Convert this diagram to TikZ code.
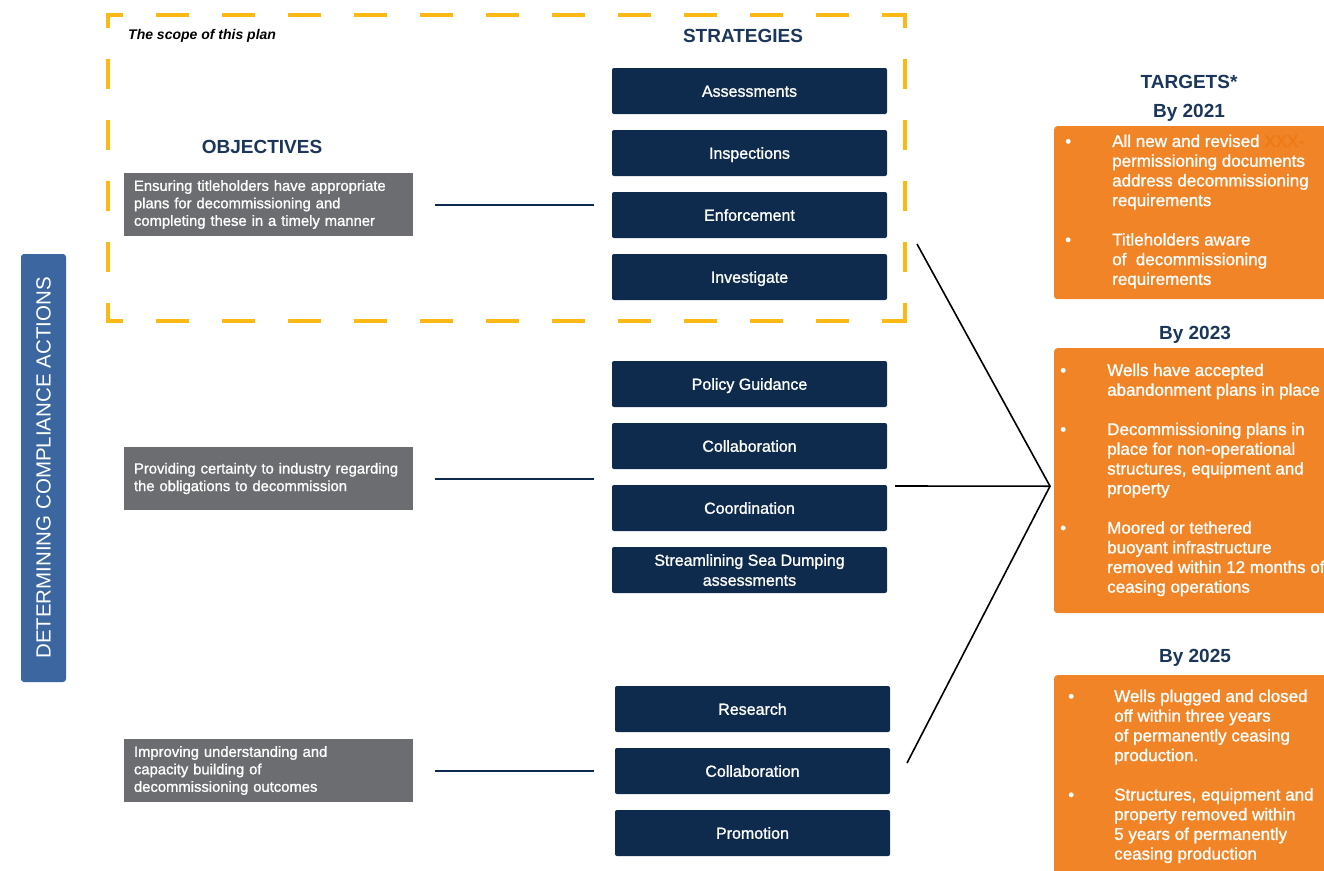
\documentclass[tikz,border=0pt]{standalone}
\usepackage{fontspec}
\setmainfont{Liberation Sans}
\newfontfamily\medfont{Liberation Sans}[FakeBold=1.2]
\usepackage{array}
\definecolor{stratblue}{RGB}{14,42,76}
\definecolor{headblue}{RGB}{27,54,90}
\definecolor{objgray}{RGB}{107,109,112}
\definecolor{barblue}{RGB}{59,102,160}
\definecolor{targetorange}{RGB}{241,132,38}
\definecolor{xxxorange}{RGB}{238,122,22}
\definecolor{scopegold}{RGB}{253,185,19}

\begin{document}
\begin{tikzpicture}[x=1pt, y=-1pt,
            strat/.style={fill=stratblue, rounded corners=2pt, minimum width=275pt, minimum height=46pt, inner sep=0pt, text=white, align=center, text height=11.5pt, text depth=0pt, font=\medfont\fontsize{16}{20}\selectfont},
            obj/.style={fill=objgray, minimum width=289pt, minimum height=63pt, text width=269pt, inner xsep=10pt, inner ysep=0pt, text=white, align=left, font=\medfont\fontsize{14.8}{17.5}\selectfont},
            heading/.style={text=headblue, anchor=base, inner sep=0pt, font=\bfseries\fontsize{19}{23}\selectfont},
            target/.style={fill=targetorange, rounded corners=3pt, minimum width=300pt, inner sep=0pt, anchor=north west},
            ttext/.style={text=white, inner sep=0pt, anchor=north west, align=left, font=\medfont\fontsize{17}{19.7}\selectfont},
            scopeline/.style={draw=scopegold, line width=4pt, line cap=rect},
            objlink/.style={draw=stratblue, line width=2pt},
            tlink/.style={draw=black, line width=1.6pt}]
            \useasboundingbox (0,0) rectangle (1324,870);
            \coordinate (sc1) at (108,15);
            \coordinate (sc2) at (905,15);
            \coordinate (sc3) at (905,321);
            \coordinate (sc4) at (108,321);
            \draw[scopeline, dash pattern=on 29pt off 37pt, dash phase=16pt] (sc1) -- (sc2);
            \draw[scopeline, dash pattern=on 29pt off 37pt, dash phase=16pt] (sc4) -- (sc3);
            \draw[scopeline, dash pattern=on 26pt off 35pt, dash phase=15pt] (sc1) -- (sc4);
            \draw[scopeline, dash pattern=on 26pt off 35pt, dash phase=15pt] (sc2) -- (sc3);
            \node[font=\bfseries\itshape\fontsize{14}{16}\selectfont, anchor=base west, inner sep=0pt] (scopelbl) at (128,39.5) {The scope of this plan};
            \node[heading] (strathd) at (743,42) {STRATEGIES};
            \node[heading] (objhd) at (262,153) {OBJECTIVES};
            \node[heading] (targhd) at (1189,88) {TARGETS*};
            \node[heading] (by21) at (1189,117) {By 2021};
            \node[heading] (by23) at (1195,339) {By 2023};
            \node[heading] (by25) at (1195,662) {By 2025};
            \node[fill=barblue, rounded corners=3pt, minimum width=428pt, minimum height=45pt, inner sep=0pt, rotate=90, text=white, font=\fontsize{20.5}{24}\selectfont] (bar) at (43.5,468) {DETERMINING COMPLIANCE ACTIONS};
            \node[strat] (assess) at (749.5,91) {Assessments};
            \node[strat] (insp) at (749.5,153) {Inspections};
            \node[strat] (enf) at (749.5,215) {Enforcement};
            \node[strat] (inv) at (749.5,277) {Investigate};
            \node[strat] (policy) at (749.5,384) {Policy Guidance};
            \node[strat] (collab) at (749.5,446) {Collaboration};
            \node[strat] (coord) at (749.5,508) {Coordination};
            \node[strat, text height=31.5pt] (dump) at (749.5,570) {Streamlining Sea Dumping\\assessments};
            \node[strat] (research) at (752.5,709) {Research};
            \node[strat] (collabb) at (752.5,771) {Collaboration};
            \node[strat] (promo) at (752.5,833) {Promotion};
            \node[obj] (obj1) at (268.5,204.5) {Ensuring titleholders have appropriate\\plans for decommissioning and\\completing these in a timely manner};
            \node[obj] (obj2) at (268.5,478.5) {Providing certainty to industry regarding\\the obligations to decommission};
            \node[obj] (obj3) at (268.5,770.5) {Improving understanding and\\capacity building of\\decommissioning outcomes};
            \draw[objlink] ([xshift=22pt]obj1.east) -- ([xshift=-18pt]obj1.east -| enf.west);
            \draw[objlink] ([xshift=22pt]obj2.east) -- ([xshift=-18pt]obj2.east -| coord.west);
            \draw[objlink] ([xshift=22pt]obj3.east) -- ([xshift=-21pt]obj3.east -| collabb.west);
            \node[target, minimum height=173pt] (t21) at (1054,126) {};
            \node[target, minimum height=265pt] (t23) at (1054,348) {};
            \node[target, minimum height=210pt] (t25) at (1054,675) {};
            \node[ttext] (t21txt) at (1065,133) {\begin{tabular}{@{}p{47pt}@{}l@{}}
                \textbullet & All new and revised \textcolor{xxxorange}{XXX-}\\
                & permissioning documents\\
                & address decommissioning\\
                & requirements\\
                & \\
                \textbullet & Titleholders aware\\
                & of~~decommissioning\\
                & requirements
            \end{tabular}};
            \node[ttext] (t23txt) at (1060,362) {\begin{tabular}{@{}p{47pt}@{}l@{}}
                \textbullet & Wells have accepted\\
                & abandonment plans in place\\
                & \\
                \textbullet & Decommissioning plans in\\
                & place for non-operational\\
                & structures, equipment and\\
                & property\\
                & \\
                \textbullet & Moored or tethered\\
                & buoyant infrastructure\\
                & removed within 12 months of\\
                & ceasing operations
            \end{tabular}};
            \node[ttext] (t25txt) at (1068,688) {\begin{tabular}{@{}p{46pt}@{}l@{}}
                \textbullet & Wells plugged and closed\\
                & off within three years\\
                & of permanently ceasing\\
                & production.\\
                & \\
                \textbullet & Structures, equipment and\\
                & property removed within\\
                & 5 years of permanently\\
                & ceasing production
            \end{tabular}};
            \coordinate (hub) at ([xshift=-4pt,yshift=-5.5pt]t23.west);
            \coordinate (g1) at (917,244);
            \coordinate (g2) at (895,486);
            \coordinate (g3) at (907,763);
            \draw[tlink] (g1) -- (hub) -- (g3);
            \draw[tlink] (g2) -- (hub);
        \end{tikzpicture}
\end{document}
